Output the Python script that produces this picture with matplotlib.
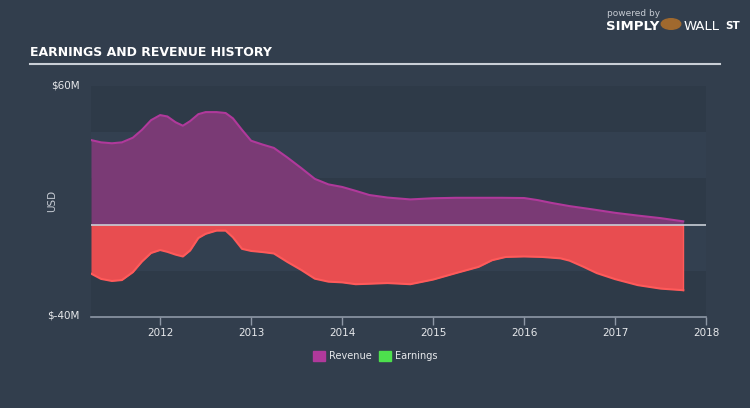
import matplotlib.pyplot as plt
from matplotlib.patches import Rectangle

# Data (decimal year, USD millions)
rev_years = [2011.24, 2011.35, 2011.47, 2011.58, 2011.70, 2011.80, 2011.90, 2012.00, 2012.08,
             2012.17, 2012.25, 2012.33, 2012.42, 2012.50, 2012.62, 2012.72, 2012.80, 2012.90,
             2013.00, 2013.13, 2013.25, 2013.40, 2013.55, 2013.70, 2013.85, 2014.00, 2014.15,
             2014.30, 2014.50, 2014.75, 2015.00, 2015.25, 2015.50, 2015.75, 2016.00, 2016.15,
             2016.30, 2016.50, 2016.75, 2017.00, 2017.25, 2017.50, 2017.75]
revenue = [36.6, 35.6, 35.2, 35.6, 37.6, 41.0, 45.2, 47.4, 46.8, 44.3, 42.8, 44.8, 47.8, 48.7,
           48.7, 48.3, 46.0, 41.0, 36.3, 34.6, 33.2, 29.0, 24.5, 19.8, 17.4, 16.3, 14.6,
           12.8, 11.7, 10.9, 11.4, 11.6, 11.6, 11.6, 11.5, 10.6, 9.4, 8.0, 6.6, 5.1, 3.9,
           2.8, 1.4]

earn_years = [2011.24, 2011.35, 2011.47, 2011.58, 2011.70, 2011.80, 2011.90, 2012.00, 2012.08,
              2012.17, 2012.25, 2012.33, 2012.42, 2012.50, 2012.62, 2012.72, 2012.80, 2012.90,
              2013.00, 2013.13, 2013.25, 2013.40, 2013.55, 2013.70, 2013.85, 2014.00, 2014.15,
              2014.30, 2014.50, 2014.75, 2015.00, 2015.25, 2015.50, 2015.65, 2015.80, 2016.00,
              2016.20, 2016.40, 2016.50, 2016.65, 2016.80, 2017.00, 2017.25, 2017.50, 2017.75]
earnings = [-21.2, -23.5, -24.4, -24.0, -20.6, -16.0, -12.3, -11.0, -11.8, -13.0, -13.8,
            -11.2, -5.8, -4.0, -2.6, -2.6, -5.5, -10.5, -11.4, -11.9, -12.5, -16.2, -19.6,
            -23.4, -24.7, -25.0, -25.8, -25.6, -25.3, -25.8, -23.8, -21.0, -18.3, -15.4,
            -14.0, -13.8, -14.0, -14.6, -15.6, -18.2, -21.0, -23.6, -26.2, -27.7, -28.4]

ticks = [2012, 2013, 2014, 2015, 2016, 2017, 2018]
tick_labels = ['2012', '2013', '2014', '2015', '2016', '2017', '2018']

bg = '#323e4d'
fig = plt.figure(figsize=(7.5, 4.08), dpi=100, facecolor=bg)

W, H = 750, 408
x0, x1, ytop, ybot = 91, 706, 86, 317
ax = fig.add_axes([x0 / W, (H - ybot) / H, (x1 - x0) / W, (ybot - ytop) / H])
ax.set_facecolor(bg)
ax.set_xlim(2011.24, 2018.0)
ax.set_ylim(-40, 60)

# alternating horizontal bands
for lo, shade in zip([-40, -20, 0, 20, 40], ['#2e3a48', '#334050', '#2e3a48', '#334050', '#2e3a48']):
    ax.axhspan(lo, lo + 20, color=shade, lw=0, zorder=0)

ax.fill_between(rev_years, 0, revenue, color='#7a3a75', lw=0, zorder=2)
ax.plot(rev_years, revenue, color='#b0399b', lw=1.5, zorder=3)
ax.fill_between(earn_years, earnings, 0, color='#e84d50', lw=0, zorder=2)
ax.plot(earn_years, earnings, color='#ff5a5a', lw=1.5, zorder=3)
ax.plot([earn_years[-1], earn_years[-1]], [earnings[-1], 0], color='#ff5a5a', lw=1, zorder=3)
ax.axhline(0, color='#c9ced6', lw=1.2, zorder=4)

for s in ['top', 'right', 'left']:
    ax.spines[s].set_visible(False)
ax.spines['bottom'].set_color('#8e98a6')
ax.spines['bottom'].set_linewidth(1.2)
ax.set_xticks(ticks)
ax.set_xticklabels(tick_labels)
ax.tick_params(axis='x', colors='#8e98a6', length=6, width=1, labelcolor='#e6e8eb',
               labelsize=7.5, pad=2)
ax.set_yticks([])

# y labels
fig.text(80 / W, 1 - 85 / H, '$60M', color='#e6e8eb', fontsize=7.5, ha='right', va='center')
fig.text(80 / W, 1 - 316 / H, '$-40M', color='#e6e8eb', fontsize=7.5, ha='right', va='center')
fig.text(52 / W, 1 - 201 / H, 'USD', color='#c5cad2', fontsize=7.5, rotation=90,
         ha='center', va='center')

# title and rule
fig.text(30 / W, 1 - 53 / H, 'EARNINGS AND REVENUE HISTORY', color='white', fontsize=9,
         fontweight='bold', family=['DejaVu Sans Condensed', 'Liberation Sans Narrow', 'DejaVu Sans'],
         va='center')
fig.add_artist(plt.Line2D([30 / W, 720 / W], [1 - 64 / H, 1 - 64 / H], color='#c9ced6', lw=1.5))

# logo text
fig.text(607 / W, 1 - 14 / H, 'powered by', color='#c5cad2', fontsize=6.5, va='center')
fig.text(606 / W, 1 - 27 / H, 'SIMPLY', color='white', fontsize=9.5, fontweight='bold', va='center')
fig.text(684 / W, 1 - 27 / H, 'WALL', color='white', fontsize=9.5, va='center')
fig.text(725 / W, 1 - 26 / H, 'ST', color='white', fontsize=7.5, fontweight='bold', va='center')
fig.add_artist(plt.Circle((671 / W, 1 - 24 / H), 0.013, transform=fig.transFigure,
                          color='#a0692e'))

# legend
fig.add_artist(Rectangle((313 / W, 1 - 361 / H), 12 / W, 10 / H, color='#b0399b',
                         transform=fig.transFigure))
fig.text(329 / W, 1 - 356 / H, 'Revenue', color='#e6e8eb', fontsize=7, va='center')
fig.add_artist(Rectangle((379 / W, 1 - 361 / H), 12 / W, 10 / H, color='#4de04d',
                         transform=fig.transFigure))
fig.text(395 / W, 1 - 356 / H, 'Earnings', color='#e6e8eb', fontsize=7, va='center')

fig.savefig('out.png', dpi=100, facecolor=bg)
